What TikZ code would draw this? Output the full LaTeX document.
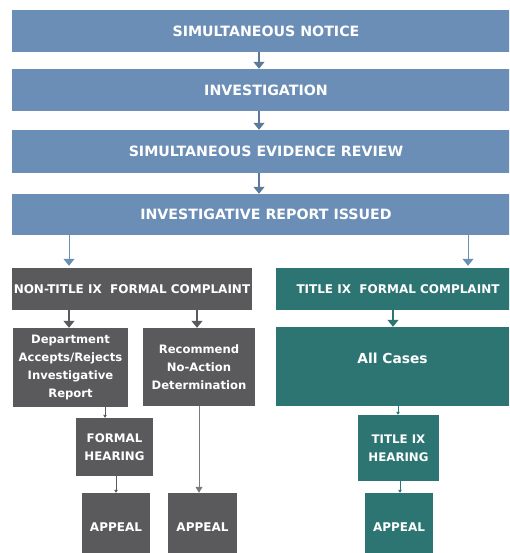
\documentclass[tikz,border=0pt]{standalone}
\usepackage{fontspec}
\setmainfont{DejaVu Sans}
\usetikzlibrary{arrows.meta}
\definecolor{bblue}{HTML}{6B8EB6}
\definecolor{bgray}{HTML}{5A5A5D}
\definecolor{bteal}{HTML}{2D7573}
\begin{document}
\begin{tikzpicture}[x=1pt,y=-1pt,
  box/.style={rectangle,inner sep=0pt,text=white,align=center,font=\bfseries},
  bluebox/.style={box,fill=bblue,font=\fontsize{14.2}{16}\selectfont\bfseries},
  graybox/.style={box,fill=bgray},
  tealbox/.style={box,fill=bteal},
  cmpfont/.style={font=\fontsize{12}{14}\selectfont\bfseries},
  midfont/.style={font=\fontsize{11.6}{18}\selectfont\bfseries},
  hearfont/.style={font=\fontsize{11.8}{18}\selectfont\bfseries},
  apfont/.style={font=\fontsize{12}{14}\selectfont\bfseries},
  bigarr/.style={line width=1.2pt,-{Triangle[width=11pt,length=7pt]}},
  smallarr/.style={line width=0.6pt,-{Triangle[width=3.5pt,length=3pt]}}]
\useasboundingbox (0,0) rectangle (509,553);
\begin{scope}
\clip (0,0) rectangle (509,553);
% top blue steps
\node[bluebox,minimum width=508pt,minimum height=42pt] (n1) at (266,31) {SIMULTANEOUS NOTICE};
\node[bluebox,minimum width=508pt,minimum height=42pt] (n2) at (266,90) {INVESTIGATION};
\node[bluebox,minimum width=508pt,minimum height=43pt] (n3) at (266,151.5) {SIMULTANEOUS EVIDENCE REVIEW};
\node[bluebox,minimum width=508pt,minimum height=41pt] (n4) at (266,214.5) {INVESTIGATIVE REPORT ISSUED};
% complaints
\node[graybox,cmpfont,minimum width=240pt,minimum height=42pt] (ntc) at (132,289) {NON-TITLE IX\ \ FORMAL COMPLAINT};
\node[tealbox,cmpfont,minimum width=244pt,minimum height=42pt] (tc) at (398,289) {TITLE IX\ \ FORMAL COMPLAINT};
% second level
\node[graybox,midfont,minimum width=115pt,minimum height=79pt] (dep) at (70.5,367.5) {Department\\Accepts/Rejects\\Investigative\\Report};
\node[graybox,midfont,minimum width=112pt,minimum height=78pt] (rec) at (199,367) {Recommend\\No-Action\\Determination};
\node[tealbox,minimum width=233pt,minimum height=79pt,
  label={[text=white,font=\fontsize{13.8}{16}\selectfont\bfseries,yshift=8pt]center:All Cases}] (all) at (392.5,366.5) {};
% hearings
\node[graybox,hearfont,minimum width=77pt,minimum height=58pt] (fh) at (114.5,447) {FORMAL\\HEARING};
\node[tealbox,hearfont,minimum width=81pt,minimum height=66pt] (th) at (398.5,448) {TITLE IX\\HEARING};
% appeals
\node[graybox,apfont,minimum width=68pt,minimum height=68pt] (ap1) at (116,527) {APPEAL};
\node[graybox,apfont,minimum width=69pt,minimum height=68pt] (ap2) at (202.5,527) {APPEAL};
\node[tealbox,apfont,minimum width=68pt,minimum height=68pt] (ap3) at (399,527) {APPEAL};
% x positions for connectors
\coordinate (xa) at (259,0);
\coordinate (xl) at (69,0);
\coordinate (xr) at (468,0);
\coordinate (xrec) at (197,0);
\coordinate (xall) at (393,0);
\coordinate (xdep) at (105,0);
\coordinate (xfh) at (116,0);
\coordinate (xap2) at (199,0);
\coordinate (xth) at (398,0);
\coordinate (xap3) at (400,0);
% connectors
\draw[bigarr,draw=bblue!85!black,fill=bblue!85!black] (n1.south -| xa) -- (n2.north -| xa);
\draw[bigarr,draw=bblue!85!black,fill=bblue!85!black] (n2.south -| xa) -- (n3.north -| xa);
\draw[bigarr,draw=bblue!85!black,fill=bblue!85!black] (n3.south -| xa) -- (n4.north -| xa);
\draw[bigarr,draw=bblue,line width=1pt] (n4.south -| xl) -- ([yshift=2pt]ntc.north -| xl);
\draw[bigarr,draw=bblue,line width=1pt] (n4.south -| xr) -- ([yshift=2pt]tc.north -| xr);
\draw[bigarr,draw=bgray] (ntc.south -| xl) -- (dep.north -| xl);
\draw[bigarr,draw=bgray] (ntc.south -| xrec) -- (rec.north -| xrec);
\draw[bigarr,draw=bteal] (tc.south -| xall) -- (all.north -| xall);
\draw[smallarr,draw=bgray] (dep.south -| xdep) -- (fh.north -| xdep);
\draw[smallarr,draw=bgray] (fh.south -| xfh) -- (ap1.north -| xfh);
\draw[line width=0.8pt,draw=bgray!80,-{Triangle[width=7pt,length=6pt]}] (rec.south -| xap2) -- (ap2.north -| xap2);
\draw[smallarr,draw=bteal] (all.south -| xth) -- (th.north -| xth);
\draw[smallarr,draw=bteal] (th.south -| xap3) -- (ap3.north -| xap3);
\end{scope}
\end{tikzpicture}
\end{document}
